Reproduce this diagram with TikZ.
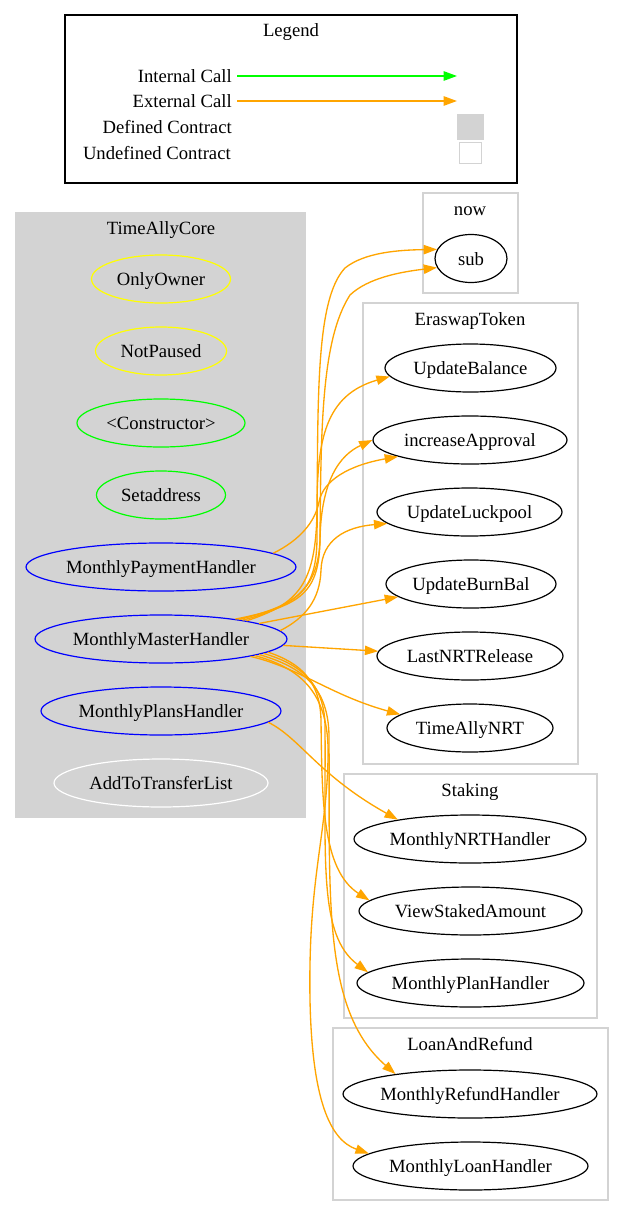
\documentclass[tikz,border=0pt]{standalone}
\usepackage{fontspec}
\setmainfont{Liberation Serif}
\usetikzlibrary{arrows.meta,shapes.geometric}
\definecolor{lg}{HTML}{D3D3D3}
\definecolor{org}{HTML}{FFA500}
\definecolor{grn}{HTML}{00FF00}
\definecolor{ylw}{HTML}{FFFF00}
\definecolor{blu}{HTML}{0000FF}
\begin{document}
\begin{tikzpicture}[x=0.75pt,y=-0.75pt,
  every node/.style={font=\fontsize{14pt}{16pt}\selectfont, text height=11.5pt, text depth=1.5pt, inner sep=0pt},
  fn/.style={ellipse, draw, minimum height=36pt, line width=0.9pt, minimum width=#1},
  clus/.style={draw=lg, line width=1pt},
  ext/.style={draw=org, line width=1pt, -{Triangle[length=10pt,width=7pt]}},
  intc/.style={draw=grn, line width=1.2pt, -{Triangle[length=10pt,width=7pt]}},
  extl/.style={draw=org, line width=1.2pt, -{Triangle[length=10pt,width=7pt]}},
  lbl/.style={anchor=east}
]
\fill[white] (0,0) rectangle (625,1217);
\useasboundingbox (0,0) rectangle (625,1217);

% Legend
\draw[black, line width=1pt] (65,15) rectangle (517,183);
\node (legt) at (291,30) {Legend};
\node[lbl] (l1) at (232,76) {Internal Call};
\node[lbl] (l2) at (232,101) {External Call};
\node[lbl] (l3) at (232,127) {Defined Contract};
\node[lbl] (l4) at (231,153) {Undefined Contract};
\coordinate (a1s) at (237,76); \coordinate (a1e) at (457,76);
\coordinate (a2s) at (237,101); \coordinate (a2e) at (457,101);
\draw[intc] (a1s) -- (a1e);
\draw[extl] (a2s) -- (a2e);
\node[fill=lg, minimum width=20pt, minimum height=19.5pt, text height=0pt, text depth=0pt] (defsq) at (470.5,127) {};
\node[draw=lg, line width=1pt, fill=white, minimum width=16.5pt, minimum height=15.75pt, text height=0pt, text depth=0pt] (undsq) at (470.5,153) {};

% Clusters
\fill[lg] (15,212) rectangle (306,818);
\node (tac) at (161,228) {TimeAllyCore};
\draw[clus] (423,193) rectangle (518,293);
\node (nowt) at (470,209) {now};
\draw[clus] (363,303) rectangle (578,764);
\node (ert) at (470,319) {EraswapToken};
\draw[clus] (344,774) rectangle (597,1018);
\node (stt) at (470,790) {Staking};
\draw[clus] (333,1028) rectangle (608,1200);
\node (lart) at (470,1044) {LoanAndRefund};

% TimeAllyCore nodes
\node[fn=104.25pt, draw=ylw] (oo) at (161,279) {OnlyOwner};
\node[fn=98.25pt, draw=ylw] (np) at (161,351) {NotPaused};
\node[fn=126pt, draw=grn] (ctor) at (161,423) {<Constructor>};
\node[fn=96.75pt, draw=grn] (sa) at (161,495) {Setaddress};
\node[fn=202.5pt, draw=blu] (mph) at (161,567) {MonthlyPaymentHandler};
\node[fn=189pt, draw=blu] (mmh) at (161,639) {MonthlyMasterHandler};
\node[fn=180pt, draw=blu] (mplh) at (161,711) {MonthlyPlansHandler};
\node[fn=160.5pt, draw=white] (attl) at (161,783) {AddToTransferList};

% now
\node[fn=54pt] (sub) at (471,258.5) {sub};
% EraswapToken
\node[fn=128.25pt] (ub) at (470.5,368) {UpdateBalance};
\node[fn=145.5pt] (ia) at (470,440) {increaseApproval};
\node[fn=138.75pt] (ulp) at (469.5,512) {UpdateLuckpool};
\node[fn=127.5pt] (ubb) at (471,584) {UpdateBurnBal};
\node[fn=139.5pt] (lnr) at (470,656) {LastNRTRelease};
\node[fn=124.5pt] (tan) at (470,728) {TimeAllyNRT};
% Staking
\node[fn=174pt] (mnrt) at (470,839) {MonthlyNRTHandler};
\node[fn=167.25pt] (vsa) at (470.5,911) {ViewStakedAmount};
\node[fn=170.25pt] (mplanh) at (470.5,983) {MonthlyPlanHandler};
% LoanAndRefund
\node[fn=190.5pt] (mrh) at (470,1094) {MonthlyRefundHandler};
\node[fn=176.25pt] (mlh) at (470.5,1166) {MonthlyLoanHandler};

% Edges
\draw[ext] (mmh.14) .. controls (300,604) and (316,590) .. (317,540) .. controls (318,400) and (315,300) .. (345,268) .. controls (365,252) and (400,250) .. (sub.165);
\draw[ext] (mmh.15) .. controls (302,606) and (319,592) .. (320,540) .. controls (321,430) and (321,340) .. (350,295) .. controls (368,278) and (400,272) .. (sub.195);
\draw[ext] (mmh.12) .. controls (298,604) and (316,585) .. (317,510) .. controls (317,440) and (325,395) .. (ub.186);
\draw[ext] (mmh.13) .. controls (300,605) and (318,585) .. (320,540) .. controls (321,480) and (340,455) .. (ia.west);
\draw[ext] (mph.7) .. controls (300,540) and (315,522) .. (319,502) .. controls (323,480) and (350,465) .. (ia.193);
\draw[ext] (mmh.4) .. controls (305,618) and (320,600) .. (321,570) .. controls (322,540) and (345,527) .. (ulp.188);
\draw[ext] (mmh.9) -- (ubb.190);
\draw[ext] (mmh.-3) -- (lnr.177);
\draw[ext] (mmh.-11) .. controls (300,668) and (330,695) .. (tan.169);
\draw[ext] (mplh.-6) .. controls (300,738) and (318,775) .. (mnrt.165);
\draw[ext] (mmh.-7) .. controls (300,663) and (320,680) .. (321,720) .. controls (322,800) and (322,870) .. (vsa.174);
\draw[ext] (mmh.-8) .. controls (303,665) and (324,685) .. (325,725) .. controls (326,860) and (318,935) .. (mplanh.174);
\draw[ext] (mmh.-9) .. controls (306,668) and (328,690) .. (329,735) .. controls (330,900) and (322,1010) .. (mrh.165);
\draw[ext] (mmh.-10) .. controls (308,670) and (330,700) .. (328,760) .. controls (326,840) and (308,880) .. (310,1000) .. controls (312,1100) and (330,1140) .. (mlh.173);
\end{tikzpicture}
\end{document}
